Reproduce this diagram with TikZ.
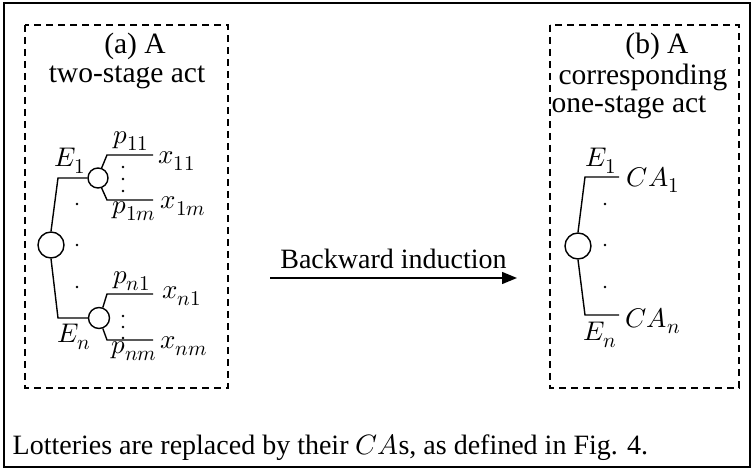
\documentclass[tikz,border=0pt]{standalone}
\usepackage{fontspec}
\usepackage{unicode-math}
\setmainfont{Liberation Serif}
\setmathfont{Latin Modern Math}
\DeclareMathSizes{27}{27}{21}{16}
\DeclareMathSizes{28}{28}{21}{16}
\usetikzlibrary{positioning}
\usetikzlibrary{arrows.meta}

\begin{document}
\begin{tikzpicture}[x=1pt, y=-1pt, line width=1.4pt,
  txt/.style={font=\fontsize{29.5}{34}\selectfont, inner sep=0},
  mth/.style={font=\fontsize{27}{31}\selectfont, inner sep=0},
  chance/.style={draw, circle, inner sep=0, minimum size=#1},
  panel/.style={draw, dash pattern=on 7pt off 5pt, line width=1.2pt}]

  \useasboundingbox (0,0) rectangle (753,470);
  \draw (4,3) rectangle (750,467);

  % (a) the two-stage act
  \draw [panel] (25,25) rectangle (228,388);
  \node [txt] (ta1) at (135,46) {(a) A};
  \node [txt] (ta2) at (127,77) {two-stage act};

  \node [chance=26pt] (ra) at (51,245) {};
  \node [chance=20pt] (c1) at (98,178) {};
  \node [chance=21pt] (cn) at (99,318) {};
  \coordinate (ka1) at (58,178);
  \coordinate (kan) at (58,318);
  \draw (ra.north) -- (ka1) -- (c1.west);
  \draw (ra.south) -- (kan) -- (cn.west);

  \coordinate (b11) at (107,155);  \coordinate (t11) at (153,155);
  \coordinate (b1m) at (107,200);  \coordinate (t1m) at (153,200);
  \coordinate (bn1) at (107,294);  \coordinate (tn1) at (153,294);
  \coordinate (bnm) at (107,340);  \coordinate (tnm) at (153,340);
  \draw (c1.70) -- (b11) -- (t11);
  \draw (c1.-70) -- (b1m) -- (t1m);
  \draw (cn.70) -- (bn1) -- (tn1);
  \draw (cn.-70) -- (bnm) -- (tnm);

  \node [mth] (ea1) at (70,161) {$E_1$};
  \node [mth] (ean) at (74,337) {$E_n$};
  \node [mth] (p11) at (131,141) {$p_{11}$};
  \node [mth] (p1m) at (134,211) {$p_{1m}$};
  \node [mth] (pn1) at (132,281) {$p_{n1}$};
  \node [mth] (pnm) at (134,351) {$p_{nm}$};
  \node [mth] (x11) at (177,161) {$x_{11}$};
  \node [mth] (x1m) at (183,206) {$x_{1m}$};
  \node [mth] (xn1) at (182,296) {$x_{n1}$};
  \node [mth] (xnm) at (184,346) {$x_{nm}$};

  % dots
  \foreach \y in {167,179,191,316,327,338}
    \fill (123,\y) circle (1.3pt);
  \foreach \y in {204,245,287} {
    \fill (77,\y) circle (1.3pt);
    \fill (605,\y) circle (1.3pt);
  }

  % backward induction
  \coordinate (ast) at (270,278);
  \coordinate (aen) at (517,278);
  \draw [-{Triangle[length=15pt,width=12pt]}] (ast) -- (aen)
    node [txt, font=\fontsize{28}{32}\selectfont, midway, above=9pt] (bi) {Backward induction};

  % (b) the one-stage act
  \draw [panel] (550,25) rectangle (739,388);
  \node [txt] (tb1) at (657,46) {(b) A};
  \node [txt] (tb2) at (643,77) {corresponding};
  \node [txt] (tb3) at (629,107) {one-stage act};

  \node [chance=26pt] (rb) at (578,246) {};
  \coordinate (kb1) at (585,177);  \coordinate (tb1e) at (619,177);
  \coordinate (kbn) at (585,315);  \coordinate (tbne) at (619,315);
  \draw (rb.north) -- (kb1) -- (tb1e);
  \draw (rb.south) -- (kbn) -- (tbne);

  \node [mth] (eb1) at (601,161) {$E_1$};
  \node [mth] (ebn) at (600,335) {$E_n$};
  \node [mth] (ca1) at (653,180) {$CA_1$};
  \node [mth] (can) at (653,321) {$CA_n$};

  % footnote
  \node [txt, font=\fontsize{28}{32}\selectfont, anchor=west] (note) at (12,447)
    {Lotteries are replaced by their $CA$s, as defined in Fig. 4.};
\end{tikzpicture}
\end{document}
